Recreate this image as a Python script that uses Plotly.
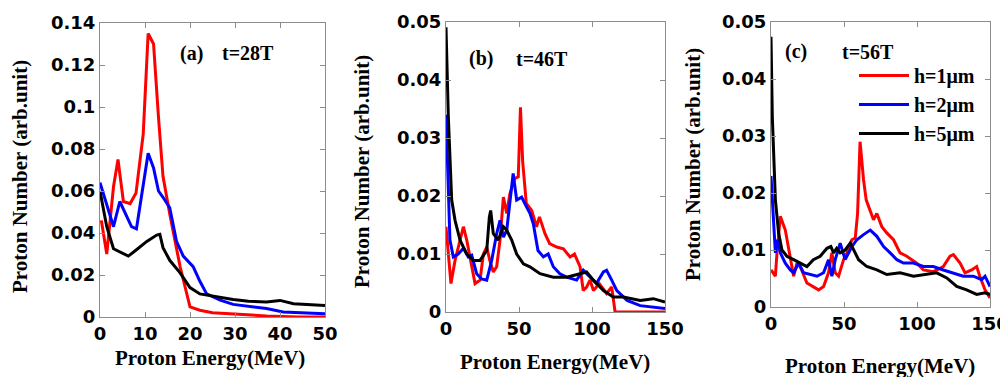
import plotly.graph_objects as go

# ---------------- data ----------------
# Panel (a) t=28T
a_red_x = [0.3, 1.5, 3, 4, 5.2, 6.7, 8, 9.6, 10.7, 11.9, 13, 14, 15.5, 17.8, 20, 22.2, 25, 30, 37, 44, 50]
a_red_y = [0.046, 0.030, 0.062, 0.075, 0.055, 0.054, 0.059, 0.087, 0.135, 0.130, 0.095, 0.067, 0.049, 0.024,
           0.0048, 0.0032, 0.002, 0.0013, 0.0005, 0.0, 0.0]
a_blue_x = [0, 3, 4.4, 7, 8.1, 9.6, 10.7, 11.9, 13, 14, 15.5, 17, 18.5, 20.7, 22.2, 23.7, 26.7, 29.6, 34, 37,
            40.7, 50]
a_blue_y = [0.064, 0.043, 0.055, 0.043, 0.042, 0.062, 0.078, 0.071, 0.060, 0.057, 0.052, 0.036, 0.029, 0.024,
            0.017, 0.011, 0.008, 0.006, 0.0048, 0.004, 0.0024, 0.0016]
a_black_x = [0, 1.5, 3, 6.3, 8.1, 10.4, 12.6, 13.3, 14, 15.5, 17.8, 20, 22.2, 26, 29.6, 33, 37, 40, 43, 46, 50]
a_black_y = [0.060, 0.043, 0.0325, 0.029, 0.032, 0.036, 0.039, 0.0394, 0.033, 0.027, 0.021, 0.014, 0.011,
             0.0095, 0.0083, 0.0075, 0.0071, 0.0079, 0.0063, 0.006, 0.0055]

# Panel (b) t=46T
b_red_x = [0, 3.4, 6.2, 9.6, 11.9, 14.2, 17.6, 19.9, 23.3, 25.6, 27.9, 30, 32.4, 34.7, 37, 39.3, 41.6, 43.8, 47,
           49.5, 51, 52.5, 55, 58.7, 62, 64, 67.8, 71, 75.8, 80.4, 85, 88, 91.8, 94, 96.3, 98.6, 101, 105, 110,
           113.5, 115.8, 150]
b_red_y = [0.0147, 0.0049, 0.0089, 0.0124, 0.0147, 0.0124, 0.0078, 0.0049, 0.0055, 0.010, 0.0112, 0.0089,
           0.0069, 0.0078, 0.0124, 0.0198, 0.017, 0.0204, 0.023, 0.0233, 0.0353, 0.026, 0.0187, 0.0175, 0.0147,
           0.0164, 0.0135, 0.0118, 0.0112, 0.0109, 0.0095, 0.010, 0.0078, 0.0037, 0.0043, 0.0055, 0.0037, 0.0049,
           0.0032, 0.0043, 0.0, 0.0]
b_blue_x = [0, 2.7, 5, 8.4, 11.9, 15.3, 17.6, 21, 24.4, 27.9, 31.3, 34.7, 37, 39.3, 41.6, 44.3, 46, 48.4, 51.8,
            54, 57.5, 59.8, 63, 66.7, 70, 73.5, 78, 82.6, 89.5, 94, 98.6, 103, 107.8, 110, 113.5, 117, 124, 133,
            150]
b_blue_y = [0.034, 0.0124, 0.0095, 0.010, 0.011, 0.0095, 0.0098, 0.0066, 0.0057, 0.0055, 0.0089, 0.0135,
            0.0158, 0.0129, 0.0141, 0.0204, 0.0239, 0.0193, 0.0198, 0.0187, 0.017, 0.0152, 0.0106, 0.0095, 0.010,
            0.0078, 0.0066, 0.006, 0.0055, 0.0072, 0.006, 0.0049, 0.0069, 0.0072, 0.0055, 0.0037, 0.002, 0.0011,
            0.0006]
b_black_x = [0, 1.6, 3.9, 6.2, 9.6, 14.2, 18.7, 23.3, 27.9, 29.7, 30.6, 32.4, 35.8, 39.3, 41.6, 45, 48.4, 53,
             57.5, 64.4, 73.5, 82.6, 91.8, 96.3, 101, 107.8, 114.6, 121.5, 133, 142, 150]
b_black_y = [0.0491, 0.0336, 0.0193, 0.0158, 0.0124, 0.010, 0.0089, 0.0089, 0.0106, 0.0164, 0.0175, 0.0135,
             0.0124, 0.0147, 0.0141, 0.0124, 0.010, 0.0083, 0.0078, 0.0066, 0.006, 0.006, 0.0066, 0.0069, 0.0055,
             0.0037, 0.0026, 0.0026, 0.002, 0.0023, 0.0017]

# Panel (c) t=56T
c_red_x = [0, 3, 4.1, 6.4, 9.8, 13.2, 15.5, 17.8, 20, 24.6, 29, 32.6, 36, 39.4, 41.7, 44, 46.3, 49.7, 52, 55.4,
           57.7, 59.3, 61, 63.4, 65.2, 66.8, 70.2, 72.5, 75.9, 79.3, 83.9, 88.4, 93, 96.4, 99.8, 104.4, 111.2,
           118, 122.6, 124.9, 129.5, 132.9, 137.4, 140.9, 143, 146.6, 150]
c_red_y = [0.0065, 0.0054, 0.0095, 0.0159, 0.0135, 0.0083, 0.0054, 0.0077, 0.0071, 0.0042, 0.0036, 0.003,
           0.0036, 0.006, 0.0095, 0.006, 0.0054, 0.0083, 0.0095, 0.0118, 0.0121, 0.0164, 0.029, 0.0223, 0.0188,
           0.0176, 0.0153, 0.0164, 0.0141, 0.013, 0.0118, 0.0095, 0.0089, 0.0083, 0.0077, 0.0065, 0.0062, 0.0071,
           0.0089, 0.0092, 0.0077, 0.006, 0.0065, 0.0071, 0.0054, 0.003, 0.0016]
c_blue_x = [0, 1.4, 3, 4.6, 6.4, 9.8, 13.2, 15.5, 18.9, 22.3, 26.9, 31.5, 36, 39.4, 41.7, 44, 47.4, 50.8, 55.4,
            58.8, 63.4, 68, 72.5, 77.1, 81.6, 86.2, 90.7, 97.6, 104.4, 111.2, 118, 124.9, 131.7, 138.6, 144.3,
            146.6, 150]
c_blue_y = [0.023, 0.0165, 0.0095, 0.0118, 0.0095, 0.0077, 0.0065, 0.006, 0.0077, 0.006, 0.0057, 0.0054, 0.006,
            0.0083, 0.0054, 0.0083, 0.0112, 0.0083, 0.0106, 0.0118, 0.0127, 0.0135, 0.0124, 0.0106, 0.0095, 0.0083,
            0.0077, 0.0077, 0.0071, 0.0071, 0.0065, 0.006, 0.0054, 0.0054, 0.0048, 0.0054, 0.0036]
c_black_x = [0, 0.9, 3, 5.2, 7.5, 10.9, 15.5, 20, 24.6, 29, 33.7, 38.3, 41, 42.9, 45, 47.4, 50.8, 54.3, 56.5,
             60, 65.6, 72.5, 79.3, 88.4, 97.6, 106.7, 113.5, 120.4, 127.2, 134, 140.9, 146.6, 150]
c_black_y = [0.0474, 0.0334, 0.0188, 0.013, 0.010, 0.0089, 0.0083, 0.0077, 0.0071, 0.0083, 0.0089, 0.0103,
             0.0106, 0.0095, 0.0103, 0.0095, 0.010, 0.0112, 0.010, 0.0083, 0.0071, 0.0065, 0.0057, 0.006, 0.0054,
             0.0057, 0.006, 0.0051, 0.0036, 0.003, 0.0022, 0.0025, 0.0022]

series_names = ["h=1\u03bcm", "h=2\u03bcm", "h=5\u03bcm"]
colors = ["#ff0000", "#0000ff", "#000000"]

# page offset (default body margin) and figure size
OFF = 8
W, H = 1000, 369


def px(X):
    return (X - OFF) / W


def py(Y):
    return 1 - (Y - OFF) / H


panels = [
    dict(data=[(a_red_x, a_red_y), (a_blue_x, a_blue_y), (a_black_x, a_black_y)],
         xr=[0, 50], xt=[0, 10, 20, 30, 40, 50], yr=[0, 0.14],
         yt=[0, 0.02, 0.04, 0.06, 0.08, 0.1, 0.12, 0.14],
         ytl=["0", "0.02", "0.04", "0.06", "0.08", "0.1", "0.12", "0.14"],
         xd=[px(100), px(325)], yd=[py(317), py(23)]),
    dict(data=[(b_red_x, b_red_y), (b_blue_x, b_blue_y), (b_black_x, b_black_y)],
         xr=[0, 150], xt=[0, 50, 100, 150], yr=[0, 0.05],
         yt=[0, 0.01, 0.02, 0.03, 0.04, 0.05],
         ytl=["0", "0.01", "0.02", "0.03", "0.04", "0.05"],
         xd=[px(446), px(665)], yd=[py(312), py(22)]),
    dict(data=[(c_red_x, c_red_y), (c_blue_x, c_blue_y), (c_black_x, c_black_y)],
         xr=[0, 150], xt=[0, 50, 100, 150], yr=[0, 0.05],
         yt=[0, 0.01, 0.02, 0.03, 0.04, 0.05],
         ytl=["0", "0.01", "0.02", "0.03", "0.04", "0.05"],
         xd=[px(771), px(990)], yd=[py(307), py(22)]),
]

fig = go.Figure()
tickfont = dict(family="DejaVu Sans", size=18, color="black", weight="bold")
serif = "Liberation Serif, Times New Roman"

for i, p in enumerate(panels):
    suffix = "" if i == 0 else str(i + 1)
    for j, (xs, ys) in enumerate(p["data"]):
        fig.add_trace(go.Scatter(x=xs, y=ys, mode="lines", name=series_names[j],
                                 line=dict(color=colors[j], width=3),
                                 xaxis="x" + suffix, yaxis="y" + suffix,
                                 showlegend=(i == 2)))
    common = dict(showgrid=False, zeroline=False, showline=True, linecolor="#8c8c8c", linewidth=1,
                  mirror="ticks", ticks="inside", ticklen=5, tickcolor="#8c8c8c", tickfont=tickfont,
                  automargin=False, ticklabeloverflow="allow")
    fig.update_layout(**{
        "xaxis" + suffix: dict(domain=p["xd"], range=p["xr"], tickvals=p["xt"],
                               anchor="y" + suffix, **common),
        "yaxis" + suffix: dict(domain=p["yd"], range=p["yr"], tickvals=p["yt"], ticktext=p["ytl"],
                               anchor="x" + suffix, **common),
    })

annos = []
# axis titles
xt_pos = [(210, 358), (555, 362), (880, 366)]
yt_pos = [(20, 177), (362, 172), (693, 165)]
for (x, y) in xt_pos:
    annos.append(dict(text="Proton Energy(MeV)", x=px(x), y=py(y), xref="paper", yref="paper",
                      xanchor="center", yanchor="middle", showarrow=False,
                      font=dict(family=serif, size=21, color="black", weight="bold")))
for (x, y) in yt_pos:
    annos.append(dict(text="Proton Number (arb.unit)", x=px(x), y=py(y), xref="paper", yref="paper",
                      xanchor="center", yanchor="middle", showarrow=False, textangle=-90,
                      font=dict(family=serif, size=21, color="black", weight="bold")))
labels = [("(a)", 191, 53), ("t=28T", 248, 53), ("(b)", 481, 59), ("t=46T", 542, 59),
          ("(c)", 796, 52), ("t=56T", 868, 52)]
for (t, x, y) in labels:
    annos.append(dict(text=t, x=px(x), y=py(y), xref="paper", yref="paper", showarrow=False,
                      xanchor="center", yanchor="middle",
                      font=dict(family=serif, size=20, color="black", weight="bold")))

fig.update_layout(
    width=W, height=H, margin=dict(l=0, r=0, t=0, b=0, autoexpand=False),
    paper_bgcolor="white", plot_bgcolor="white",
    annotations=annos,
    legend=dict(x=px(854), y=py(56), xanchor="left", yanchor="top",
                bgcolor="rgba(0,0,0,0)", font=dict(family=serif, size=20, color="black", weight="bold"),
                tracegroupgap=0, itemwidth=50),
)

fig.write_html("out.html",
               post_script="document.documentElement.style.overflow='hidden';"
                           "document.body.style.overflow='hidden';")
